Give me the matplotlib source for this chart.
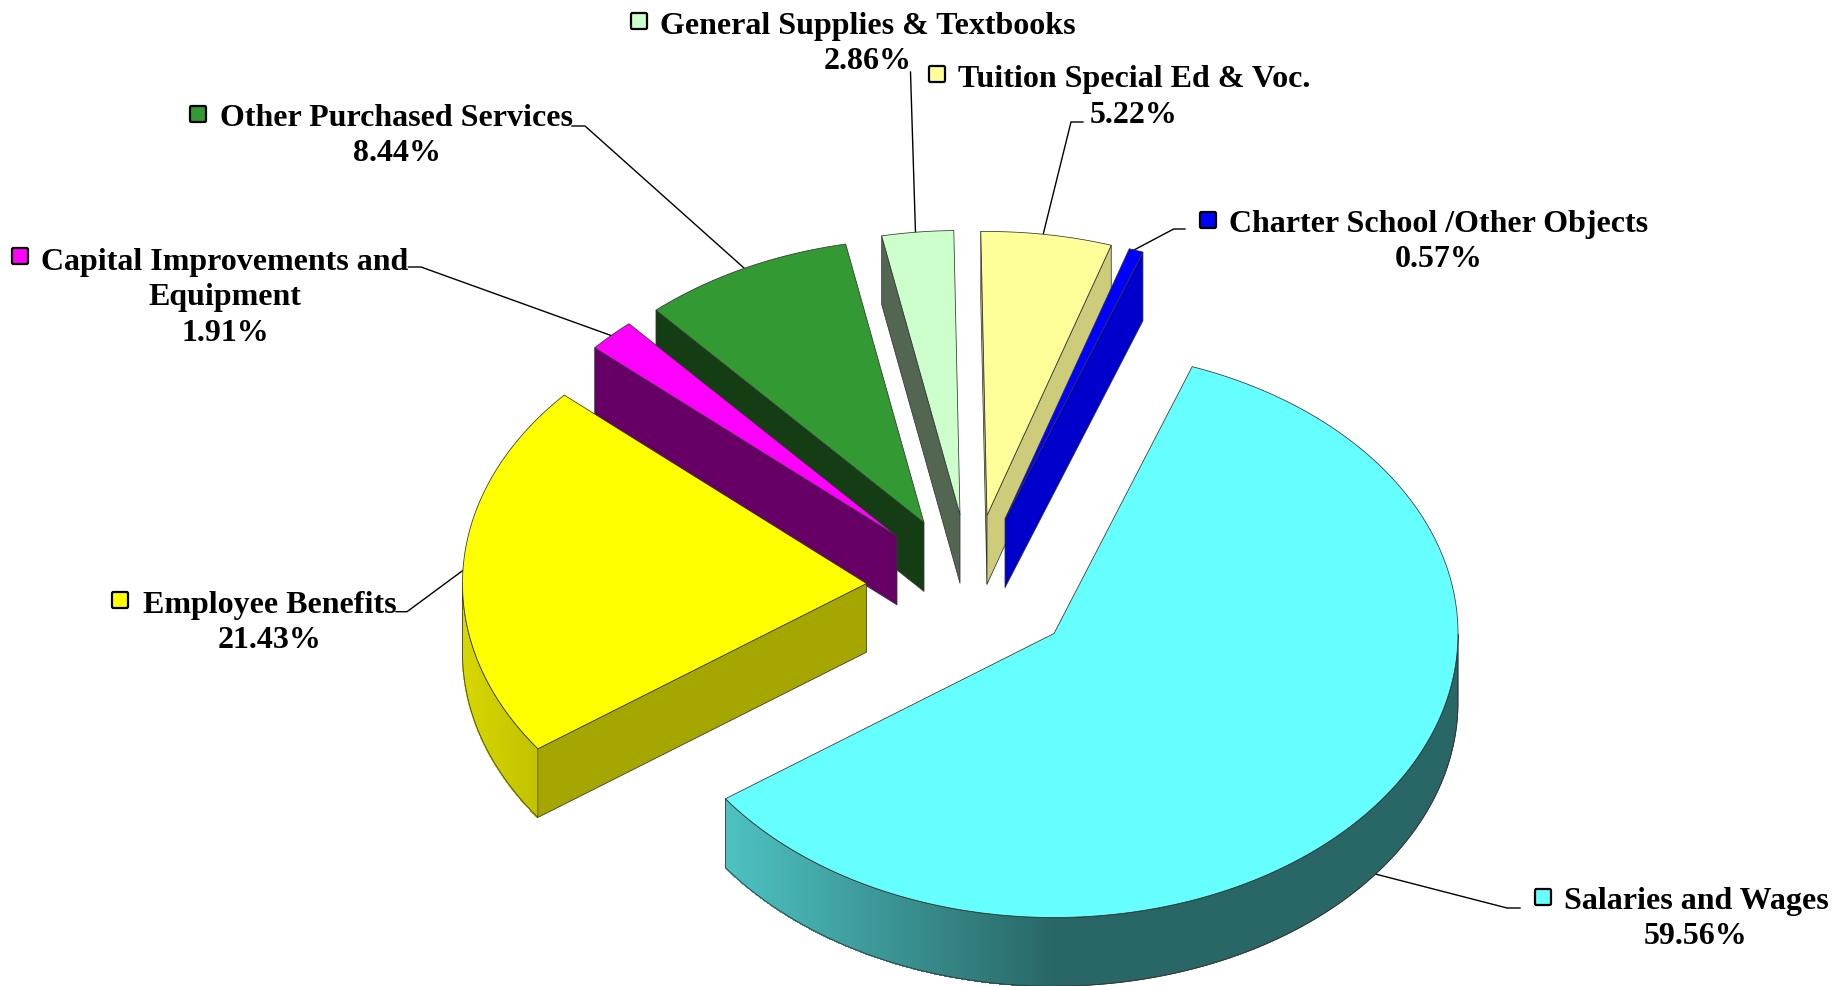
#!/usr/bin/env python3
"""Exploded 3D budget pie: top ellipses, walls and rim are projected by hand from the percentages."""
import numpy as np, matplotlib; matplotlib.use("Agg")
import matplotlib.pyplot as plt
from matplotlib.colors import to_rgb
from matplotlib.collections import PolyCollection
from matplotlib.patches import Polygon, FancyBboxPatch

# ---------- data ----------
NAMES=["Salaries and Wages","Employee Benefits","Capital Improvements and\nEquipment","Other Purchased Services",
       "General Supplies & Textbooks","Tuition Special Ed & Voc.","Charter School /Other Objects"]
PCT=[59.56,21.43,1.91,8.44,2.86,5.22,0.57]

# ---------- styles / layout (pixels, y down) ----------
COL=["#66FFFF","#FFFF00","#FF00FF","#339933","#CCFFCC","#FFFF99","#0000FF"]
WALL=[0.40,0.65,0.40,0.40,0.40,0.80,0.80]  # shade of the flat cut faces
APEX=[(1054,633.5),(866.5,583.5),(897,536.2),(924,522.7),(960,514.5),(987,515.5),(1005,519)]
LABEL_XY=[(1696,919),(269.5,623),(225,298),(397,136),(868,44),(1134,97.5),(1439,242)]
KEY_XY=[(1543,897),(120,600),(20,256),(198,114),(639,21),(937,74),(1208,220)]
LEADER=[[(1371.4,873),(1507,908),(1520,908)],[(463.5,570),(407,611.7),(396,611.7)],[(611.6,335.7),(421,267),(408.5,267)],
        [(744,268),(585,126),(572,126)],[(915.5,233),(910.5,72)],[(1043,235),(1071,122),(1083,122)],
        [(1134,250),(1173.7,229),(1185,229)]]
A,B,DEPTH=404,284,68.7   # ellipse radii and slab thickness
START=70.0               # angle where the first slice begins, going clockwise
ORDER=[4,5,6,3,2,1,0]    # painter's order, back to front
EDGE=dict(edgecolor="#333333",lw=0.55,joinstyle="round")

plt.rcParams["font.family"]=["Liberation Serif","DejaVu Serif"]
fig=plt.figure(figsize=(18.41,9.86),dpi=100)
ax=fig.add_axes([0,0,1,1]); ax.set_xlim(0,1841); ax.set_ylim(986,0); ax.axis("off")

def shade(c,f): return tuple(v*f for v in to_rgb(c))
def rim(ap,t): return np.c_[ap[0]+A*np.cos(np.radians(t)),ap[1]-B*np.sin(np.radians(t))]

edges=START-np.cumsum([0]+PCT)*3.6
for i in ORDER:
    hi,lo=edges[i]%360,edges[i+1]%360   # hi is where the slice starts, lo where it ends (clockwise)
    if lo>hi: lo-=360
    ap=APEX[i]; c=COL[i]; z=10+ORDER.index(i)
    # flat cut faces that look toward the viewer
    for t,vis in ((hi,np.cos(np.radians(hi))<0),(lo,np.cos(np.radians(lo))>0)):
        if vis:
            p=rim(ap,[t])[0]
            ax.add_patch(Polygon([ap,p,(p[0],p[1]+DEPTH),(ap[0],ap[1]+DEPTH)],facecolor=shade(c,WALL[i]),zorder=z,**EDGE))
    # outer rim, front half only; colour slides with x across the left part
    ts=np.linspace(lo,hi,481); ts=ts[np.sin(np.radians(ts))<0]
    if len(ts)>1:
        pts=rim(ap,ts); low=pts+[0,DEPTH]
        ax.add_patch(Polygon(np.vstack([pts,low[::-1]]),facecolor=shade(c,0.40),zorder=z,**EDGE))
        segs=[];cols=[]
        for p,q,t in zip(pts[:-1],pts[1:],ts[:-1]):
            if np.cos(np.radians(t))<0:
                frac=1+np.cos(np.radians(t))
                segs.append([p,q,q+[0,DEPTH],p+[0,DEPTH]]); cols.append(shade(c,0.843-0.443*frac))
        if segs:
            ax.add_collection(PolyCollection(segs,facecolors=cols,edgecolors=cols,linewidths=0.6,antialiaseds=False,zorder=z+0.1))
        ax.add_patch(Polygon(np.vstack([pts,low[::-1]]),fill=False,zorder=z+0.2,**EDGE))
    # top face
    ax.add_patch(Polygon(np.vstack([[ap],rim(ap,np.linspace(lo,hi,481))]),facecolor=c,zorder=z+0.5,**EDGE))

for name,pct,c,lab,key,lead in zip(NAMES,PCT,COL,LABEL_XY,KEY_XY,LEADER):
    ax.text(lab[0],lab[1],f"{name}\n{pct:.2f}%",ha="center",va="center",fontsize=23,fontweight="bold",
            linespacing=1.28,color="black",zorder=30)
    ax.add_patch(FancyBboxPatch((key[0]-8,key[1]-8),16,16,boxstyle="round,pad=0,rounding_size=1.5",
                                facecolor=c,edgecolor="black",lw=1.6,zorder=30))
    ax.plot(*zip(*lead),color="black",lw=1.0,zorder=5,solid_joinstyle="miter")

fig.savefig("out.png",dpi=100)
